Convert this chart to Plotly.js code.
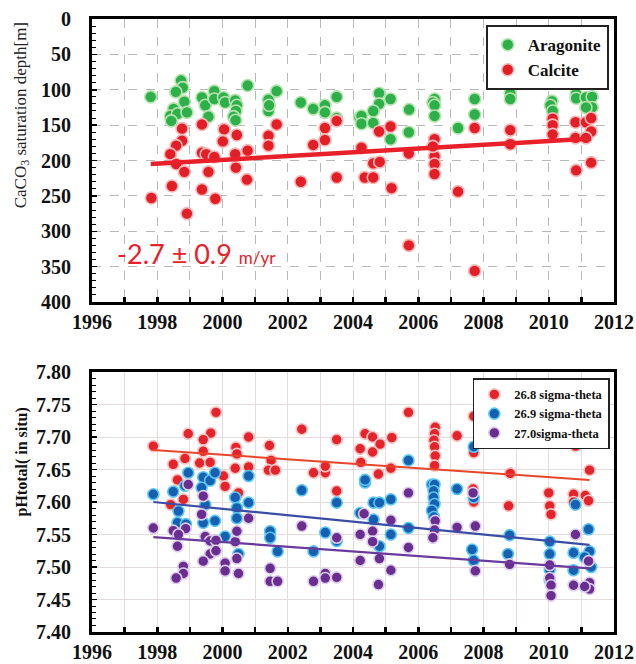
<!DOCTYPE html>
<html>
<head>
<meta charset="utf-8">
<script src="https://cdn.plot.ly/plotly-3.0.1.min.js"></script>
<style>html,body{margin:0;padding:0;background:#fff;}#chart{width:636px;height:664px;}</style>
</head>
<body>
<div id="chart"></div>
<script>
// ---------- Top panel: CaCO3 saturation depth ----------
const aragoniteYear = [1997.8,1998.73,1998.78,1998.57,1998.83,1998.5,1998.4,1998.62,1998.91,1998.43,1999.37,1999.47,1999.75,1999.75,2000.03,2000.08,1999.57,2000.39,2000.44,2000.41,2000.34,2000.4,2000.77,2001.41,2001.66,2001.41,2001.43,2002.4,2002.78,2003.14,2003.14,2003.5,2003.5,2004.2,2004.8,2004.8,2004.62,2004.26,2004.26,2004.62,2005.15,2005.15,2005.72,2005.71,2006.5,2006.45,2006.5,2006.5,2007.22,2007.73,2007.73,2008.82,2008.82,2010.1,2010.05,2010.12,2010.84,2010.84,2011.14,2011.33,2011.33,2011.14];
const aragoniteDepth = [110,87,97,103,117,127,137,134,132,144,111,122,102,113,111,118,138,115,122,130,138,143,94,114,102,130,122,118,127,122,132,110,140,139,105,120,130,137,148,147,113,170,128,160,113,118,122,137,154,113,135,105,113,116,122,130,106,112,111,110,125,125];

const calciteYear = [1998.76,1999.37,2000.05,2000.44,2000.01,1998.76,1998.58,1998.4,2001.41,2001.41,2001.66,2000.77,2000.39,1999.37,1999.5,1999.75,2003.14,2003.14,2002.78,2003.5,1998.58,1998.83,1998.45,1997.82,1998.91,1999.57,1999.37,1999.78,2000.41,2000.75,2002.4,2003.5,2004.62,2004.82,2004.36,2004.62,2005.18,2005.71,2006.5,2006.5,2006.5,2007.22,2005.71,2007.73,2010.84,2011.3,2004.8,2005.15,2004.26,2006.5,2006.45,2007.73,2008.82,2008.82,2010.12,2010.12,2010.12,2010.82,2010.82,2011.14,2011.3,2011.3,2011.14];
const calciteDepth = [155,149,156,164,173,172,179,191,165,179,149,186,191,189,191,195,154,171,178,144,205,216,236,253,275,216,241,254,210,227,230,224,204,202,224,224,239,190,194,205,219,244,320,356,214,203,159,152,182,170,180,154,157,177,141,150,163,146,168,146,140,159,168];

const calciteTrendYear = [1997.8, 2011.3];
const calciteTrendDepth = [205, 169];

// ---------- Bottom panel: pH ----------
const s268Year = [1997.88,1998.95,1999.8,1999.64,1999.41,1999.41,1999.3,1999.62,1998.85,1998.49,2000.41,2000.44,2000.8,2000.39,2000.8,2001.44,2001.49,2001.41,2001.62,2002.43,2002.79,2003.15,2003.15,2003.5,2004.22,2000.03,1998.62,2004.37,2004.6,2004.83,2004.6,2004.24,2004.78,2005.16,2005.19,2005.7,2006.52,2006.5,2006.48,2006.5,2006.52,2006.5,2007.19,2007.7,2007.7,2008.82,2010.82,2011.25,2010.0,2010.03,2010.07,2008.77,2007.68,2007.7,2010.76,2010.76,2011.12,2011.22,1998.8,1998.41,2000.08,2000.49,2003.5];
const s268pH = [7.686,7.705,7.738,7.706,7.696,7.678,7.660,7.661,7.667,7.658,7.684,7.674,7.700,7.652,7.654,7.687,7.664,7.649,7.649,7.712,7.645,7.645,7.655,7.696,7.682,7.640,7.634,7.705,7.700,7.689,7.677,7.661,7.643,7.652,7.699,7.738,7.715,7.705,7.695,7.685,7.671,7.656,7.702,7.732,7.676,7.644,7.686,7.649,7.614,7.594,7.581,7.594,7.620,7.600,7.612,7.600,7.610,7.602,7.604,7.596,7.624,7.614,7.617];

const s269Year = [1997.88,1998.49,1998.95,1998.85,1998.65,1998.62,1998.88,1999.41,1999.62,1999.77,1999.36,1999.47,1999.41,1999.77,2000.08,2000.39,2000.44,2000.44,2000.8,2000.8,2000.49,2001.46,2001.46,2001.69,2002.43,2003.15,2002.79,2003.5,2003.5,2004.22,2004.37,2004.63,2004.81,2005.16,2004.63,2005.16,2004.81,2005.7,2005.7,2004.37,2006.42,2006.5,2006.47,2006.47,2006.5,2006.42,2006.48,2007.19,2007.7,2007.7,2007.65,2007.7,2008.8,2008.75,2010.03,2010.03,2010.03,2010.03,2010.76,2010.76,2010.82,2011.22,2011.25,2011.3,2011.1];
const s269pH = [7.612,7.616,7.645,7.625,7.586,7.568,7.566,7.638,7.633,7.645,7.622,7.596,7.568,7.571,7.547,7.607,7.591,7.575,7.599,7.640,7.520,7.555,7.545,7.524,7.618,7.553,7.524,7.599,7.540,7.583,7.630,7.599,7.599,7.604,7.573,7.550,7.532,7.560,7.664,7.634,7.627,7.627,7.617,7.607,7.597,7.587,7.577,7.620,7.607,7.685,7.527,7.510,7.549,7.520,7.539,7.520,7.496,7.480,7.522,7.495,7.596,7.558,7.524,7.500,7.515];

const s270Year = [1997.88,1998.49,1998.87,1998.65,1998.95,1998.62,1998.8,1998.8,1998.58,1999.41,1999.36,1999.47,1999.62,1999.8,1999.62,1999.8,1999.41,2000.08,2000.08,2000.39,2000.44,2000.44,2000.49,2000.8,2001.46,2001.46,2001.69,2002.43,2003.15,2002.79,2003.15,2003.5,2003.5,2004.22,2004.22,2005.7,2004.34,2004.6,2004.6,2004.81,2005.16,2004.78,2005.16,2005.7,2006.52,2006.5,2006.45,2007.19,2007.75,2007.68,2007.75,2008.8,2010.03,2010.03,2010.07,2010.07,2010.82,2010.76,2011.22,2011.25,2011.25,2011.1];
const s270pH = [7.560,7.556,7.559,7.550,7.627,7.532,7.501,7.490,7.483,7.609,7.581,7.547,7.540,7.541,7.520,7.525,7.509,7.506,7.494,7.539,7.555,7.513,7.490,7.575,7.498,7.478,7.478,7.563,7.490,7.478,7.483,7.545,7.484,7.550,7.510,7.614,7.582,7.555,7.539,7.513,7.495,7.473,7.572,7.530,7.571,7.557,7.545,7.561,7.563,7.614,7.494,7.504,7.503,7.483,7.472,7.456,7.550,7.472,7.509,7.476,7.466,7.470];

const trendYear = [1997.88, 2011.25];
const s268Trend = [7.680, 7.634];
const s269Trend = [7.600, 7.534];
const s270Trend = [7.546, 7.498];

// ---------- Axis tick labels ----------
const yearTicks = [1996,1998,2000,2002,2004,2006,2008,2010,2012];
const yearLabels = ['1996','1998','2000','2002','2004','2006','2008','2010','2012'];
const depthTicks = [0,50,100,150,200,250,300,350,400];
const depthLabels = ['0','50','100','150','200','250','300','350','400'];
const pHTicks = [7.40,7.45,7.50,7.55,7.60,7.65,7.70,7.75,7.80];
const pHLabels = ['7.40','7.45','7.50','7.55','7.60','7.65','7.70','7.75','7.80'];

const serif = 'Times New Roman';
const mk = (fill, edge, size) => ({size: size, color: fill, line: {color: edge, width: 1.6}});

const traces = [
  {x: aragoniteYear, y: aragoniteDepth, type: 'scatter', mode: 'markers', name: 'Aragonite',
   marker: mk('#2db04a', '#b5e3ad', 12), xaxis: 'x', yaxis: 'y', legend: 'legend'},
  {x: calciteYear, y: calciteDepth, type: 'scatter', mode: 'markers', name: 'Calcite',
   marker: mk('#e31e26', '#f6b9b9', 12), xaxis: 'x', yaxis: 'y', legend: 'legend'},
  {x: calciteTrendYear, y: calciteTrendDepth, type: 'scatter', mode: 'lines', showlegend: false,
   line: {color: '#e8202a', width: 4.5}, xaxis: 'x', yaxis: 'y', hoverinfo: 'skip'},

  {x: s268Year, y: s268pH, type: 'scatter', mode: 'markers', name: '26.8 sigma-theta',
   marker: mk('#e5232a', '#f7c4c4', 11), xaxis: 'x2', yaxis: 'y2', legend: 'legend2'},
  {x: s269Year, y: s269pH, type: 'scatter', mode: 'markers', name: '26.9 sigma-theta',
   marker: mk('#1560b0', '#5cc6f2', 11), xaxis: 'x2', yaxis: 'y2', legend: 'legend2'},
  {x: s270Year, y: s270pH, type: 'scatter', mode: 'markers', name: '27.0sigma-theta',
   marker: mk('#6a2d90', '#dccdea', 11), xaxis: 'x2', yaxis: 'y2', legend: 'legend2'},
  {x: trendYear, y: s268Trend, type: 'scatter', mode: 'lines', showlegend: false,
   line: {color: '#e8452a', width: 2}, xaxis: 'x2', yaxis: 'y2', hoverinfo: 'skip'},
  {x: trendYear, y: s269Trend, type: 'scatter', mode: 'lines', showlegend: false,
   line: {color: '#3a4da6', width: 2.2}, xaxis: 'x2', yaxis: 'y2', hoverinfo: 'skip'},
  {x: trendYear, y: s270Trend, type: 'scatter', mode: 'lines', showlegend: false,
   line: {color: '#6a3a9c', width: 2.2}, xaxis: 'x2', yaxis: 'y2', hoverinfo: 'skip'}
];

const tickFont = {family: serif, size: 20, color: '#111', weight: 700};
function xAxis(anchor, gridcolor, griddash) {
  return {
    domain: [0, 1], anchor: anchor, range: [1996, 2012],
    tickmode: 'array', tickvals: yearTicks, ticktext: yearLabels,
    ticks: 'inside', ticklen: 5, tickwidth: 2.5, tickcolor: '#000',
    minor: {tick0: 1996, dtick: 1, ticks: 'inside', ticklen: 5, tickwidth: 2.5, tickcolor: '#000',
            showgrid: true, gridcolor: gridcolor, griddash: griddash, gridwidth: 1},
    showgrid: true, gridcolor: gridcolor, griddash: griddash, gridwidth: 1,
    showline: true, linecolor: '#000', linewidth: 3, mirror: true,
    tickfont: tickFont, zeroline: false, ticklabelstandoff: 0
  };
}

const layout = {
  width: 636, height: 664,
  margin: {l: 92, r: 22, t: 19, b: 32},
  paper_bgcolor: '#fff', plot_bgcolor: '#fff',
  showlegend: true,
  xaxis: xAxis('y', '#b8b8b8', 'dash'),
  yaxis: {domain: [0.5383, 1], anchor: 'x', range: [400, 0],
    tickmode: 'array', tickvals: depthTicks, ticktext: depthLabels,
    ticks: 'inside', ticklen: 5, tickwidth: 1.5, tickcolor: '#000',
    minor: {dtick: 10, ticks: 'inside', ticklen: 4, tickwidth: 1, tickcolor: '#000', showgrid: false},
    showline: true, linecolor: '#000', linewidth: 3, mirror: true,
    showgrid: true, gridcolor: '#b8b8b8', griddash: 'dash', gridwidth: 1,
    tickfont: tickFont, zeroline: false, ticklabelstandoff: 14},
  xaxis2: xAxis('y2', '#e6dada', 'solid'),
  yaxis2: {domain: [0, 0.4241], anchor: 'x2', range: [7.40, 7.80],
    tickmode: 'array', tickvals: pHTicks, ticktext: pHLabels,
    ticks: 'inside', ticklen: 5, tickwidth: 1.5, tickcolor: '#000',
    minor: {dtick: 0.01, ticks: 'inside', ticklen: 4, tickwidth: 1, tickcolor: '#000', showgrid: false},
    showline: true, linecolor: '#000', linewidth: 3, mirror: true,
    showgrid: true, gridcolor: '#e6dada', gridwidth: 1,
    tickfont: tickFont, zeroline: false, ticklabelstandoff: 14},
  legend: {x: 0.99, xanchor: 'right', y: 0.99, yanchor: 'top',
    bgcolor: '#fff', bordercolor: '#222', borderwidth: 2,
    font: {family: serif, size: 17, color: '#111', weight: 700},
    itemwidth: 30, tracegroupgap: 0},
  legend2: {x: 0.992, xanchor: 'right', y: 0.414, yanchor: 'top',
    bgcolor: '#fff', bordercolor: '#222', borderwidth: 1.5,
    font: {family: serif, size: 12.5, color: '#111', weight: 700},
    itemwidth: 30, tracegroupgap: 0},
  annotations: [
    {xref: 'paper', yref: 'y', x: 0.044, y: 332, xanchor: 'left', yanchor: 'middle',
     text: '-2.7 ± 0.9 <span style="font-size:17px">m/yr</span>', showarrow: false,
     font: {family: 'Lato', size: 27, color: '#e8202a'}},
    {xref: 'paper', yref: 'paper', x: -0.134, y: 0.843, xanchor: 'center', yanchor: 'middle',
     text: 'CaCO<sub>3</sub> saturation depth[m]', textangle: -90, showarrow: false,
     font: {family: serif, size: 17, color: '#222'}},
    {xref: 'paper', yref: 'paper', x: -0.134, y: 0.2766, xanchor: 'center', yanchor: 'middle',
     text: 'pHtotal( in situ)', textangle: -90, showarrow: false,
     font: {family: serif, size: 16, color: '#111', weight: 700}}
  ]
};

Plotly.newPlot('chart', traces, layout, {displayModeBar: false, staticPlot: true});
</script>
</body>
</html>
